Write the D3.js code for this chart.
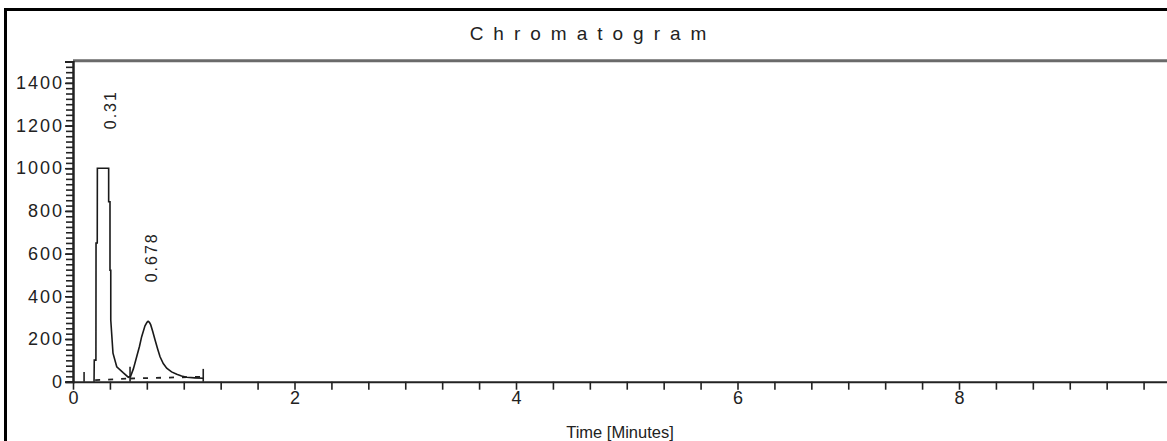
<!DOCTYPE html>
<html><head><meta charset="utf-8">
<script src="https://cdn.jsdelivr.net/npm/d3@7"></script>
<style>
html,body{margin:0;padding:0;background:#fff;}
svg{display:block;font-family:"Liberation Sans",Arial,sans-serif;}
</style></head>
<body>
<svg id="c" width="1167" height="441"></svg>
<script>
// ---- data ----
const traceTime = [0.19,0.192,0.207,0.208,0.219,0.22,0.322,0.322,0.334,0.334,0.341,0.341,0.361,0.395,0.455,0.499,0.52,0.545,0.575,0.60,0.62,0.65,0.668,0.678,0.69,0.702,0.72,0.741,0.765,0.786,0.815,0.846,0.89,0.937,0.98,1.027,1.10,1.176];
const traceValue = [0,101,101,650,650,1000,1000,843,843,522,522,289,134,70,41,21,25,60,117,165,211,262,278,283,278,266,235,195,152,117,85,63,46,35,27,21,18,16];
const peakTimes = [0.31, 0.678];
const peakValues = [1000, 283];
const peakLabels = ["0.31", "0.678"];
const baselineTime = [[0.2, 0.515], [0.515, 1.176]];
const baselineValue = [[0, 8], [8, 16]];
const markerTime = [0.1, 0.515, 1.176];
const markerValue = [45, 70, 60];
const xLabelTicks = [0, 2, 4, 6, 8];
const yLabelTicks = [0, 200, 400, 600, 800, 1000, 1200, 1400];
const title = "Chromatogram";
const xTitle = "Time [Minutes]";

// ---- drawing ----
const svg = d3.select("#c");
const x = d3.scaleLinear().domain([0, 10]).range([73, 1180.5]);
const y = d3.scaleLinear().domain([0, 1500]).range([381.7, 61.5]);

// outer frame
svg.append("path").attr("d", "M5.5,445 L5.5,9.5 L1170,9.5")
  .attr("fill", "none").attr("stroke", "#000").attr("stroke-width", 3);

// title
svg.append("text").attr("x", 593).attr("y", 40).attr("text-anchor", "middle")
  .attr("font-size", 19).attr("letter-spacing", 10).attr("fill", "#222").text(title);

// plot top border
svg.append("line").attr("x1", 73).attr("x2", 1167).attr("y1", y(1500)-0.8).attr("y2", y(1500)-0.8)
  .attr("stroke", "#6a6a6a").attr("stroke-width", 3);

// y axis minor ticks
const yMinor = d3.range(0, 1501, 25);
const gyMinor = svg.append("g").attr("transform", "translate(73,0)")
  .call(d3.axisLeft(y).tickValues(yMinor).tickSize(7).tickFormat(""));
const gy = svg.append("g").attr("transform", "translate(73,0)")
  .call(d3.axisLeft(y).tickValues(yLabelTicks).tickSize(8).tickPadding(3).tickFormat(d3.format("d")));
[gyMinor, gy].forEach(g => {
  g.select(".domain").attr("stroke", "#222").attr("stroke-width", 2);
  g.selectAll(".tick line").attr("stroke", "#222").attr("stroke-width", 1.6);
});
gy.selectAll("text").attr("font-size", 18).attr("letter-spacing", 2).attr("fill", "#222")
  .attr("font-family", "Liberation Sans, Arial, sans-serif").attr("dx", 2);

// x axis
const xMinor = d3.range(0, 30).map(i => i / 3);
const gxMinor = svg.append("g").attr("transform", "translate(0,381.7)")
  .call(d3.axisBottom(x).tickValues(xMinor).tickSize(8).tickFormat("").tickSizeOuter(0));
gxMinor.select(".domain").remove();
gxMinor.selectAll(".tick line").attr("stroke", "#222").attr("stroke-width", 1.6);
const gx = svg.append("g").attr("transform", "translate(0,381.7)")
  .call(d3.axisBottom(x).tickValues(xLabelTicks).tickSize(0).tickPadding(10).tickFormat(d3.format("d")).tickSizeOuter(0));
gx.select(".domain").attr("stroke", "#222").attr("stroke-width", 2);
gx.selectAll("text").attr("font-size", 18).attr("fill", "#222")
  .attr("font-family", "Liberation Sans, Arial, sans-serif");

// x title
svg.append("text").attr("x", 620).attr("y", 438).attr("text-anchor", "middle")
  .attr("font-size", 16.5).attr("fill", "#222").text(xTitle);

// dashed baselines
baselineTime.forEach((bt, i) => {
  svg.append("line").attr("x1", x(bt[0])).attr("x2", x(bt[1]))
    .attr("y1", y(baselineValue[i][0]) - 1.5).attr("y2", y(baselineValue[i][1]) - 1.5)
    .attr("stroke", "#222").attr("stroke-width", 1.8).attr("stroke-dasharray", "5,8");
});

// markers
markerTime.forEach((t, i) => {
  svg.append("line").attr("x1", x(t)).attr("x2", x(t)).attr("y1", y(0)).attr("y2", y(markerValue[i]))
    .attr("stroke", "#222").attr("stroke-width", 1.6);
});

// trace
const pts = traceTime.map((t, i) => [t, traceValue[i]]);
svg.append("path").datum(pts)
  .attr("d", d3.line().x(d => x(d[0])).y(d => y(d[1])))
  .attr("fill", "none").attr("stroke", "#1a1a1a").attr("stroke-width", 1.6);

// peak labels
peakTimes.forEach((t, i) => {
  const px = x(t) + 9, py = y(peakValues[i]) - 39;
  svg.append("text").attr("transform", `translate(${px},${py}) rotate(-90)`)
    .attr("font-size", 16).attr("letter-spacing", 2).attr("fill", "#222").text(peakLabels[i]);
});
</script>
</body></html>
